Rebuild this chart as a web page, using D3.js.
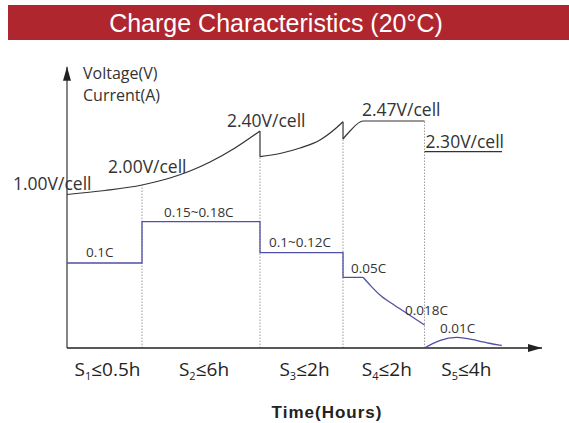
<!DOCTYPE html>
<html>
<head>
<meta charset="utf-8">
<script src="https://cdn.jsdelivr.net/npm/d3@7/dist/d3.min.js"></script>
<style>
  body { margin: 0; background: #fff; }
  svg { display: block; }
</style>
</head>
<body>
<svg id="chart" width="569" height="423"></svg>
<script>
// Stage boundaries (time units along the x axis) and stage labels
const stageEdges = [0, 1, 2.573, 3.68, 4.767, 5.8];
const stageNames = ['1', '2', '3', '4', '5'];
const stageLimits = ['≤0.5h', '≤6h', '≤2h', '≤2h', '≤4h'];

// Voltage curve, one array per continuous segment: [x, level]
const voltageSeg1 = [[0, 1.535], [0.507, 1.575], [1, 1.63], [1.373, 1.70], [1.64, 1.77], [1.907, 1.86], [2.24, 2.0], [2.573, 2.17]];
const voltageSeg2 = [[2.573, 1.913], [2.84, 1.945], [3.107, 2.0], [3.373, 2.08], [3.573, 2.19], [3.68, 2.263]];
const voltageSeg3 = [[3.68, 2.09], [3.773, 2.17], [3.947, 2.27], [4.767, 2.27]];
const floatSeg = [[4.767, 1.963], [5.8, 1.963]];

// Current curve: step part then decay, and the small float bump
const currentSteps = [[0, 0.85], [1, 0.85], [1, 1.263], [2.573, 1.263], [2.573, 0.953], [3.68, 0.953], [3.68, 0.707], [3.947, 0.707]];
const currentDecay = [[3.947, 0.707], [4.04, 0.63], [4.173, 0.53], [4.347, 0.437], [4.529, 0.347], [4.767, 0.23]];
const currentFloat = [[4.767, 0], [4.96, 0.08], [5.196, 0.12], [5.436, 0.08], [5.636, 0.045], [5.796, 0.025]];

// Annotations: [text, x, level]
const voltageLabels = [['1.00V/cell', -0.72, 1.58], ['2.00V/cell', 0.547, 1.75], ['2.40V/cell', 2.133, 2.21], ['2.47V/cell', 3.933, 2.32], ['2.30V/cell', 4.78, 2.003]];
const currentLabels = [['0.1C', 0.253, 0.91], ['0.15~0.18C', 1.293, 1.313], ['0.1~0.12C', 2.693, 1.013], ['0.05C', 3.787, 0.75], ['0.018C', 4.507, 0.33], ['0.01C', 4.973, 0.15]];

const svg = d3.select('#chart');
const W = 569;

const x = d3.scaleLinear().domain([0, 6.333]).range([67, 542]);
const y = d3.scaleLinear().domain([0, 2.8]).range([348, 68]);

const smooth = d3.line().x(d => x(d[0])).y(d => y(d[1])).curve(d3.curveMonotoneX);
const straight = d3.line().x(d => x(d[0])).y(d => y(d[1]));

// Title bar
svg.append('rect')
  .attr('x', 8).attr('y', 5)
  .attr('width', W - 8).attr('height', 35)
  .attr('fill', '#b0262f');

svg.append('text')
  .attr('x', 276).attr('y', 32)
  .attr('text-anchor', 'middle')
  .attr('font-family', 'Liberation Sans, Arial, sans-serif')
  .attr('font-size', 25)
  .attr('fill', '#fff')
  .text('Charge Characteristics (20°C)');

// Dotted stage separators, from the axis up to the voltage curve
const sepTops = [[1, 1.63], [2.573, 1.913], [3.68, 2.09], [4.767, 2.27]];
svg.append('g')
  .selectAll('line')
  .data(sepTops)
  .join('line')
  .attr('x1', d => x(d[0])).attr('x2', d => x(d[0]))
  .attr('y1', y(0)).attr('y2', d => y(d[1]))
  .attr('stroke', '#9a9a9a')
  .attr('stroke-width', 1)
  .attr('stroke-dasharray', '1.5,1.5');

// Axes with arrows
svg.append('defs').append('marker')
  .attr('id', 'arrow')
  .attr('viewBox', '0 0 14 8')
  .attr('refX', 14).attr('refY', 4)
  .attr('markerWidth', 14).attr('markerHeight', 8)
  .attr('markerUnits', 'userSpaceOnUse')
  .attr('orient', 'auto')
  .append('path')
  .attr('d', 'M0,0 L14,4 L0,8 Z')
  .attr('fill', '#222');

svg.append('line')
  .attr('x1', x(0)).attr('x2', x(0))
  .attr('y1', y(0)).attr('y2', y(2.813))
  .attr('stroke', '#333').attr('stroke-width', 1.2)
  .attr('marker-end', 'url(#arrow)');

svg.append('line')
  .attr('x1', x(0)).attr('x2', x(6.333))
  .attr('y1', y(0)).attr('y2', y(0))
  .attr('stroke', '#222').attr('stroke-width', 1.4)
  .attr('marker-end', 'url(#arrow)');

// Voltage curve
const vSegs = [voltageSeg1, voltageSeg2, voltageSeg3];
const vg = svg.append('g').attr('fill', 'none').attr('stroke', '#333').attr('stroke-width', 1.2);
vSegs.forEach((seg, i) => {
  vg.append('path').attr('d', smooth(seg));
  if (i < vSegs.length - 1) {
    // vertical drop at the stage change
    vg.append('path').attr('d', straight([seg[seg.length - 1], vSegs[i + 1][0]]));
  }
});
vg.append('path').attr('d', straight(floatSeg));

// Current curve
const cg = svg.append('g').attr('fill', 'none').attr('stroke', '#5050a6').attr('stroke-width', 1.3);
cg.append('path').attr('d', straight(currentSteps));
cg.append('path').attr('d', smooth(currentDecay));
cg.append('path').attr('d', d3.line().x(d => x(d[0])).y(d => y(d[1])).curve(d3.curveBasis)(currentFloat));

// Axis captions
const labelFont = 'Open Sans, Noto Sans, sans-serif';
svg.append('text')
  .attr('x', 83).attr('y', 79)
  .attr('font-family', labelFont).attr('font-size', 16).attr('fill', '#333')
  .text('Voltage(V)');
svg.append('text')
  .attr('x', 83).attr('y', 101)
  .attr('font-family', labelFont).attr('font-size', 16).attr('fill', '#333')
  .text('Current(A)');

// Voltage annotations
svg.append('g')
  .selectAll('text')
  .data(voltageLabels)
  .join('text')
  .attr('x', d => x(d[1])).attr('y', d => y(d[2]))
  .attr('font-family', labelFont).attr('font-size', 17.5).attr('fill', '#333')
  .text(d => d[0]);

// Current annotations
svg.append('g')
  .selectAll('text')
  .data(currentLabels)
  .join('text')
  .attr('x', d => x(d[1])).attr('y', d => y(d[2]))
  .attr('font-family', labelFont).attr('font-size', 13.5).attr('fill', '#333')
  .text(d => d[0]);

// Stage labels under the axis
const stageText = svg.append('g')
  .selectAll('text')
  .data(stageNames.map((n, i) => ({ n, lim: stageLimits[i], mid: (stageEdges[i] + stageEdges[i + 1]) / 2 })))
  .join('text')
  .attr('x', d => x(d.mid) + 3).attr('y', 376)
  .attr('text-anchor', 'middle')
  .attr('font-family', labelFont).attr('font-size', 19).attr('fill', '#222');
stageText.append('tspan').text('S');
stageText.append('tspan').attr('font-size', 11).attr('dy', 4).text(d => d.n);
stageText.append('tspan').attr('dy', -4).text(d => d.lim);

svg.append('text')
  .attr('x', 327).attr('y', 418)
  .attr('text-anchor', 'middle')
  .attr('font-family', 'Liberation Sans, Arial, sans-serif')
  .attr('font-weight', 'bold')
  .attr('font-size', 17)
  .attr('letter-spacing', 1)
  .attr('fill', '#222')
  .text('Time(Hours)');
</script>
</body>
</html>
